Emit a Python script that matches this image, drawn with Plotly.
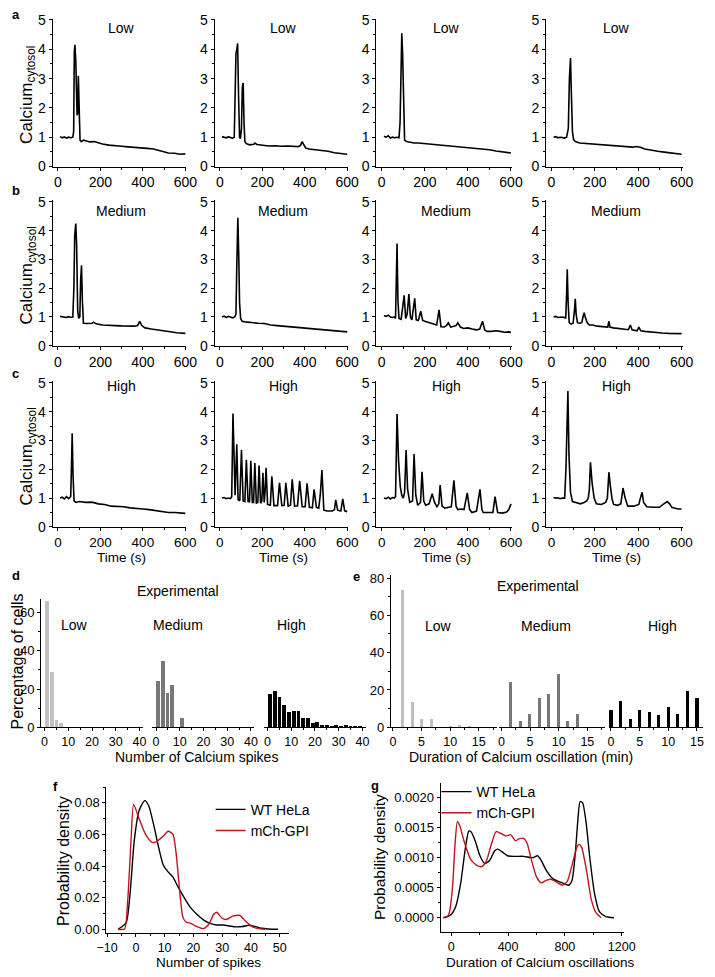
import plotly.graph_objects as go

W, H = 715, 977
FONT = "Liberation Sans, Arial, sans-serif"

# ---------------- data: calcium traces (time s, Calcium_cytosol) ----------------
a1_t = [10, 20, 30, 40, 50, 60, 70, 74, 77, 80, 84, 90, 93, 96, 99, 104, 110, 120, 135, 150, 170, 190, 210, 240, 270, 300, 330, 360, 390, 420, 450, 470, 490, 520, 550, 575, 600]
a1_v = [1.02, 0.98, 1.01, 0.97, 1.0, 0.98, 1.0, 1.2, 3.9, 4.15, 3.6, 1.75, 1.8, 3.1, 2.4, 0.9, 0.85, 0.9, 0.87, 0.84, 0.85, 0.8, 0.77, 0.73, 0.7, 0.69, 0.67, 0.66, 0.64, 0.62, 0.6, 0.56, 0.5, 0.46, 0.45, 0.42, 0.43]
a2_t = [10, 20, 30, 40, 50, 60, 68, 72, 76, 80, 84, 88, 93, 97, 102, 106, 110, 114, 118, 125, 140, 160, 165, 175, 200, 230, 260, 290, 320, 350, 370, 380, 388, 395, 405, 420, 450, 480, 510, 540, 570, 600]
a2_v = [1.02, 1.0, 0.98, 1.01, 0.99, 0.97, 1.0, 2.5, 3.85, 4.0, 4.2, 2.5, 1.0, 0.95, 1.3, 2.7, 2.85, 1.5, 0.85, 0.78, 0.74, 0.76, 0.8, 0.75, 0.72, 0.7, 0.71, 0.69, 0.7, 0.68, 0.68, 0.72, 0.85, 0.75, 0.63, 0.6, 0.58, 0.56, 0.52, 0.47, 0.44, 0.42]
a3_t = [10, 20, 30, 40, 50, 60, 70, 80, 85, 90, 93, 97, 101, 106, 115, 130, 150, 170, 200, 230, 260, 290, 320, 350, 380, 410, 440, 470, 500, 530, 560, 580, 600]
a3_v = [1.03, 1.0, 1.05, 0.97, 1.0, 0.98, 1.0, 0.98, 1.5, 3.5, 4.55, 3.8, 2.0, 0.9, 0.85, 0.83, 0.8, 0.8, 0.78, 0.74, 0.72, 0.7, 0.68, 0.66, 0.65, 0.63, 0.6, 0.58, 0.57, 0.53, 0.5, 0.47, 0.46]
a4_t = [10, 20, 30, 40, 50, 60, 70, 78, 83, 88, 92, 97, 102, 110, 130, 160, 190, 220, 250, 280, 310, 340, 360, 375, 390, 410, 430, 460, 490, 520, 550, 580, 600]
a4_v = [1.0, 1.02, 0.98, 1.0, 0.99, 0.97, 1.0, 1.3, 3.0, 3.7, 2.5, 1.2, 0.92, 0.85, 0.8, 0.78, 0.76, 0.75, 0.73, 0.72, 0.7, 0.68, 0.65, 0.66, 0.68, 0.66, 0.6, 0.55, 0.52, 0.49, 0.46, 0.43, 0.42]

b1_t = [10, 20, 30, 40, 50, 60, 70, 75, 79, 84, 88, 93, 98, 103, 107, 111, 115, 120, 140, 160, 167, 180, 210, 240, 270, 300, 330, 360, 375, 385, 395, 410, 440, 470, 500, 530, 560, 600]
b1_v = [1.02, 1.0, 1.0, 0.98, 1.01, 0.99, 1.0, 2.0, 3.85, 4.25, 3.5, 1.2, 0.95, 1.0, 2.3, 2.8, 1.6, 0.78, 0.77, 0.78, 0.82, 0.76, 0.72, 0.7, 0.7, 0.69, 0.68, 0.68, 0.7, 0.85, 0.7, 0.62, 0.58, 0.55, 0.5, 0.48, 0.45, 0.43]
b2_t = [10, 20, 30, 40, 50, 60, 70, 76, 80, 85, 89, 93, 98, 105, 120, 150, 180, 210, 240, 270, 300, 330, 360, 390, 420, 450, 480, 510, 540, 570, 600]
b2_v = [1.0, 1.03, 0.98, 1.02, 1.0, 0.97, 1.0, 1.1, 2.8, 4.45, 3.2, 1.5, 0.95, 0.85, 0.83, 0.8, 0.78, 0.77, 0.72, 0.7, 0.68, 0.66, 0.63, 0.62, 0.6, 0.58, 0.55, 0.53, 0.5, 0.49, 0.48]
b3_t = [10, 20, 30, 40, 50, 60, 64, 68, 71, 75, 80, 90, 97, 104, 111, 118, 126, 133, 140, 146, 153, 160, 170, 181, 190, 200, 220, 240, 255, 266, 275, 290, 300, 309, 320, 335, 345, 353, 365, 380, 400, 420, 440, 455, 468, 478, 490, 510, 530, 550, 570, 590, 600]
b3_v = [1.05, 1.02, 1.06, 1.0, 0.98, 1.0, 0.95, 2.2, 3.55, 1.6, 0.95, 0.92, 1.3, 1.75, 0.95, 1.1, 1.8, 1.0, 0.9, 1.3, 1.65, 0.9, 0.88, 1.2, 0.88, 0.85, 0.8, 0.75, 0.72, 1.25, 0.66, 0.65, 0.7, 0.8, 0.65, 0.68, 0.7, 0.8, 0.65, 0.6, 0.62, 0.58, 0.55, 0.58, 0.85, 0.55, 0.5, 0.5, 0.52, 0.5, 0.47, 0.48, 0.46]
b4_t = [10, 20, 30, 40, 50, 60, 66, 70, 73, 77, 82, 90, 100, 106, 110, 114, 120, 130, 140, 147, 151, 156, 165, 175, 190, 210, 230, 250, 260, 265, 270, 285, 300, 320, 340, 355, 364, 372, 385, 395, 403, 412, 430, 450, 480, 510, 540, 570, 600]
b4_v = [1.0, 1.02, 0.98, 1.0, 1.0, 0.98, 0.95, 1.8, 2.66, 1.5, 0.8, 0.75, 0.78, 1.2, 1.63, 1.1, 0.8, 0.78, 0.8, 1.05, 1.15, 1.0, 0.8, 0.72, 0.72, 0.68, 0.66, 0.64, 0.65, 0.85, 0.65, 0.62, 0.6, 0.58, 0.57, 0.56, 0.72, 0.55, 0.53, 0.52, 0.65, 0.52, 0.5, 0.48, 0.45, 0.44, 0.43, 0.42, 0.42]

c1_t = [10, 20, 30, 40, 50, 55, 60, 64, 67, 71, 76, 85, 100, 130, 160, 190, 220, 250, 280, 310, 340, 370, 400, 430, 460, 490, 520, 550, 580, 600]
c1_v = [1.0, 1.03, 0.97, 1.05, 0.98, 1.0, 1.05, 2.2, 3.25, 1.8, 0.9, 0.85, 0.88, 0.85, 0.86, 0.8, 0.78, 0.72, 0.72, 0.7, 0.66, 0.65, 0.62, 0.6, 0.56, 0.52, 0.5, 0.5, 0.48, 0.47]
c2_t = [10, 20, 30, 40, 50, 56, 62, 68, 72, 80, 86, 94, 102, 110, 118, 125, 133, 140, 146, 153, 159, 165, 172, 179, 185, 192, 198, 203, 209, 213, 218, 225, 238, 245, 255, 272, 281, 292, 303, 311, 322, 333, 341, 352, 366, 376, 388, 402, 411, 422, 436, 444, 455, 466, 473, 481, 490, 505, 530, 540, 546, 555, 570, 579, 588, 600]
c2_v = [1.0, 1.02, 0.98, 1.0, 0.98, 1.05, 3.94, 1.6, 1.1, 2.87, 0.95, 0.9, 2.67, 0.9, 0.88, 2.33, 0.88, 0.87, 2.3, 0.85, 0.85, 2.22, 0.83, 0.85, 2.13, 0.82, 0.9, 1.88, 0.85, 1.2, 2.05, 0.78, 0.75, 1.76, 0.74, 0.74, 1.53, 0.74, 0.75, 1.53, 0.72, 0.75, 1.65, 0.72, 0.73, 1.6, 0.7, 0.7, 1.51, 0.68, 0.66, 1.3, 0.68, 0.65, 1.1, 1.97, 0.58, 0.55, 0.55, 0.6, 0.94, 0.58, 0.55, 0.97, 0.56, 0.53]
c3_t = [10, 20, 30, 40, 50, 58, 64, 71, 78, 86, 93, 100, 106, 113, 120, 130, 143, 150, 158, 167, 180, 187, 195, 204, 220, 234, 245, 256, 265, 271, 280, 293, 310, 323, 335, 345, 353, 370, 382, 397, 408, 419, 440, 456, 465, 471, 490, 516, 526, 538, 560, 580, 590, 600]
c3_v = [1.0, 0.98, 1.03, 0.97, 1.02, 1.0, 1.05, 3.92, 2.3, 1.4, 1.1, 1.0, 1.2, 2.67, 1.3, 0.85, 0.9, 2.53, 1.1, 0.75, 0.85, 1.91, 0.9, 0.75, 0.8, 1.15, 0.85, 0.7, 0.8, 1.45, 0.72, 0.65, 0.68, 0.7, 1.62, 0.72, 0.6, 0.62, 0.6, 1.18, 0.6, 0.5, 0.55, 1.3, 0.6, 0.5, 0.5, 0.5, 1.05, 0.5, 0.48, 0.52, 0.6, 0.8]
c4_t = [10, 20, 30, 40, 50, 61, 67, 71, 76, 81, 88, 97, 115, 134, 150, 163, 170, 175, 180, 188, 197, 207, 230, 250, 258, 265, 272, 280, 287, 305, 320, 330, 340, 352, 380, 403, 412, 418, 425, 440, 470, 498, 515, 534, 545, 555, 570, 585, 600]
c4_v = [1.02, 1.0, 1.01, 0.98, 1.0, 1.0, 2.0, 3.8, 4.72, 2.5, 1.2, 0.88, 0.85, 0.8, 0.85, 0.9, 1.0, 1.3, 2.24, 1.5, 1.0, 0.8, 0.78, 0.85, 1.0, 1.9, 1.4, 0.95, 0.78, 0.75, 0.8, 1.35, 1.0, 0.72, 0.72, 0.78, 1.05, 1.2, 0.85, 0.7, 0.68, 0.68, 0.78, 0.88, 0.8, 0.68, 0.65, 0.62, 0.62]

row_titles = ["Low", "Medium", "High"]

# ---------------- data: histograms ----------------
spike_bins = [1, 3, 5, 7, 9, 11, 13, 15, 17, 19, 21, 23, 25, 27, 29, 31, 33, 35, 37, 39]
d_low = [66, 29, 3.5, 2, 0, 0, 0, 0, 0, 0, 0, 0, 0, 0, 0, 0, 0, 0, 0, 0]
d_med = [24, 34.8, 17.7, 22, 0, 4.5, 0, 0, 0, 0, 0, 0, 0, 0, 0, 0, 0, 0, 0, 0]
d_high = [17.4, 18.6, 15.7, 11.7, 7.8, 8.2, 8.2, 4.6, 4.6, 2.3, 2.6, 1.2, 0.6, 0.4, 1.0, 0.3, 0.6, 0.3, 0.3, 0.2]

dur_bins = [1.67, 3.33, 5.0, 6.67, 8.33, 10.0, 11.67, 13.33, 15.0]
dur_bins_high = [0.0, 1.67, 3.33, 5.0, 6.67, 8.33, 10.0, 11.67, 13.33, 15.0]
e_low = [73.5, 13.5, 4.5, 4.5, 0, 0.5, 0.9, 0.6, 0]
e_med = [24, 3, 7, 15.5, 17.7, 28.3, 3, 7, 0]
e_high = [9.2, 13.9, 4.1, 9.2, 8.3, 6.4, 10.8, 7, 19.1, 15.7]

# ---------------- data: probability density curves ----------------
f_wt_x = [-6.2, -3.4, -2.0, -0.56, 1.1, 3.1, 4.5, 6.2, 7.9, 9.55, 11.2, 12.9, 14.6, 16.9, 19.1, 21.3, 23.6, 25.8, 28.1, 30.3, 32.6, 34.8, 37.1, 39.3, 41.6, 43.8, 46.1, 49.4]
f_wt_y = [0, 0.004, 0.023, 0.056, 0.075, 0.0814, 0.078, 0.066, 0.052, 0.0405, 0.0363, 0.033, 0.027, 0.0197, 0.0135, 0.0093, 0.0058, 0.0037, 0.0027, 0.0027, 0.0021, 0.0015, 0.0017, 0.0025, 0.0017, 0.0006, 0.0002, 0]
f_gpi_x = [-6.18, -3.93, -2.81, -1.69, -0.79, 1.12, 3.37, 5.62, 7.3, 9.55, 11.24, 12.9, 14.0, 15.2, 16.3, 17.4, 19.1, 20.8, 23.4, 25.3, 27.0, 28.1, 29.8, 31.5, 33.7, 36.2, 38.2, 40.4, 42.7, 44.9]
f_gpi_y = [0, 0.0002, 0.019, 0.056, 0.079, 0.07, 0.06, 0.055, 0.0555, 0.059, 0.062, 0.06, 0.048, 0.025, 0.008, 0.0046, 0.0037, 0.002, 0.0004, 0.003, 0.0093, 0.0108, 0.0073, 0.0062, 0.0083, 0.0087, 0.005, 0.0017, 0.0004, 0]

g_wt_x = [-48, -2, 32, 66, 100, 123, 139, 168, 202, 236, 270, 305, 327, 361, 395, 452, 509, 555, 577, 607, 634, 668, 714, 759, 793, 827, 850, 873, 891, 907, 925, 948, 975, 1009, 1043, 1089, 1145]
g_wt_y = [0, 0.00005, 0.00019, 0.00057, 0.00117, 0.00144, 0.00143, 0.00128, 0.00103, 0.0009, 0.00095, 0.00111, 0.00114, 0.00109, 0.00103, 0.00102, 0.00102, 0.001, 0.001, 0.00103, 0.00095, 0.00079, 0.00065, 0.0006, 0.00057, 0.00054, 0.00062, 0.00106, 0.00161, 0.00193, 0.00191, 0.00161, 0.00101, 0.0004, 0.0001, 0.00002, 0]
g_gpi_x = [-59, -25, -14, 9, 25, 43, 61, 89, 134, 180, 214, 248, 282, 316, 350, 384, 418, 452, 475, 509, 532, 566, 600, 634, 668, 702, 736, 782, 816, 850, 884, 900, 918, 952, 986, 1020, 1055]
g_gpi_y = [0, 0.00003, 0.00008, 0.00051, 0.00117, 0.0016, 0.00152, 0.00128, 0.00098, 0.00087, 0.00085, 0.00095, 0.00122, 0.00143, 0.0014, 0.00136, 0.00138, 0.00128, 0.00131, 0.00132, 0.00125, 0.00095, 0.00068, 0.00058, 0.00062, 0.00064, 0.0006, 0.00054, 0.0006, 0.00087, 0.00117, 0.00122, 0.00117, 0.00079, 0.0003, 0.00008, 0]

# ---------------- helpers (positions in window pixels) ----------------
def PX(x):
    return x / W

def PY(y):
    return 1 - y / H

fig = go.Figure()
layout_axes = {}
counter = [0]

def axes(xd, yd, xr, yr, xdtick, ydtick, xminor, yminor, showy=True, tfs=14, xtfs=None):
    counter[0] += 1
    n = counter[0]
    sx = "" if n == 1 else str(n)
    base = dict(showline=True, linecolor="black", linewidth=1, ticks="outside",
                ticklen=3, tickwidth=1, tickcolor="black", showgrid=False,
                zeroline=False, tickfont=dict(size=tfs, color="black", family=FONT))
    xa = dict(base, domain=[PX(xd[0]), PX(xd[1])], range=xr, anchor="y" + sx,
              dtick=xdtick, tick0=0, minor=dict(ticks="outside", ticklen=2, dtick=xminor, tick0=0, tickcolor="black"))
    if xtfs:
        xa["tickfont"] = dict(size=xtfs, color="black", family=FONT)
    ya = dict(base, domain=[PY(yd[1]), PY(yd[0])], range=yr, anchor="x" + sx,
              dtick=ydtick, tick0=0, minor=dict(ticks="outside", ticklen=2, dtick=yminor, tick0=0, tickcolor="black"))
    if not showy:
        ya.update(showline=False, ticks="", showticklabels=False, minor=dict(ticks=""))
    layout_axes["xaxis" + sx] = xa
    layout_axes["yaxis" + sx] = ya
    return "x" + sx, "y" + sx

annotations = []

def text(x, y, s, size=14, angle=0, xanchor="center", bold=False):
    annotations.append(dict(x=PX(x), y=PY(y), xref="paper", yref="paper", text=("<b>%s</b>" % s) if bold else s,
                            showarrow=False, font=dict(size=size, color="black", family=FONT),
                            textangle=angle, xanchor=xanchor, yanchor="middle"))

# ---------------- rows a, b, c ----------------
col_x = [(44, 182), (211, 349), (378, 518), (553, 694)]
row_y = [(11.7, 162), (196.5, 344), (380.3, 528)]
traces = [[(a1_t, a1_v), (a2_t, a2_v), (a3_t, a3_v), (a4_t, a4_v)],
          [(b1_t, b1_v), (b2_t, b2_v), (b3_t, b3_v), (b4_t, b4_v)],
          [(c1_t, c1_v), (c2_t, c2_v), (c3_t, c3_v), (c4_t, c4_v)]]
title_y = [21.7, 207, 385]
for r in range(3):
    for c in range(4):
        xr, yr = axes(col_x[c], row_y[r], [-25, 605], [0, 5.05], 200, 1, 100, 0.5,
                      xtfs=(13.5 if r == 2 else None))
        t, v = traces[r][c]
        fig.add_trace(go.Scatter(x=t, y=v, mode="lines", line=dict(color="black", width=1.6),
                                 xaxis=xr, yaxis=yr, showlegend=False, hoverinfo="skip"))
        text((col_x[c][0] + col_x[c][1]) / 2 + 2, title_y[r], row_titles[r], size=14)
    yc = (row_y[r][0] + row_y[r][1]) / 2 + 2
    text(19, yc, "Calcium<sub>cytosol</sub>", size=17, angle=-90)
for c in range(4):
    text((col_x[c][0] + col_x[c][1]) / 2 + 2, 559, "Time (s)", size=13.5)

# ---------------- panel d ----------------
d_cols = [(32, 137), (147, 252), (262, 367)]
d_data = [d_low, d_med, d_high]
d_colors = ["#c0c0c0", "#777777", "#000000"]
for i in range(3):
    xr, yr = axes(d_cols[i], (601.5, 731.5), [-1.5, 41.4], [0, 67], 10, 20, 5, 10, showy=(i == 0), tfs=13, xtfs=12.5)
    fig.add_trace(go.Bar(x=spike_bins, y=d_data[i], width=1.6, marker=dict(color=d_colors[i], line=dict(width=0)),
                         xaxis=xr, yaxis=yr, showlegend=False, hoverinfo="skip"))
text(173, 593, "Experimental", size=14)
text(67, 628, "Low", size=14)
text(173, 628, "Medium", size=14)
text(290, 628, "High", size=14)
text(192, 761.5, "Number of Calcium spikes", size=14)
text(8, 665, "Percentage of cells", size=16, angle=-90)

# ---------------- panel e ----------------
e_cols = [(393, 502), (505, 614), (618, 715)]
e_ranges = [[-0.35, 18.1], [-0.35, 18.1], [-0.35, 16.06]]
e_x = [dur_bins, dur_bins, dur_bins_high]
e_data = [e_low, e_med, e_high]
for i in range(3):
    xr, yr = axes(e_cols[i], (577.1, 731.5), e_ranges[i], [0, 81.5], 5, 20, 2.5, 10, showy=(i == 0), tfs=13, xtfs=12.5)
    fig.add_trace(go.Bar(x=e_x[i], y=e_data[i], width=0.55, marker=dict(color=d_colors[i], line=dict(width=0)),
                         xaxis=xr, yaxis=yr, showlegend=False, hoverinfo="skip"))
text(545, 588, "Experimental", size=14)
text(442, 629, "Low", size=14)
text(553, 629, "Medium", size=14)
text(673, 629, "High", size=14)
text(527, 762, "Duration of Calcium oscillation (min)", size=14)

# ---------------- panel f ----------------
xr, yr = axes((99.3, 288.3), (791.7, 940), [-10.3, 53.4], [-0.0021, 0.0903], 10, 0.02, 5, 0.01, tfs=13, xtfs=12.5)
layout_axes["yaxis" + yr[1:]]["tickformat"] = ".2f"
fig.add_trace(go.Scatter(x=f_wt_x, y=f_wt_y, mode="lines", name="WT HeLa", line=dict(color="black", width=1.4, shape="spline", smoothing=0.6),
                         xaxis=xr, yaxis=yr, legend="legend", hoverinfo="skip"))
fig.add_trace(go.Scatter(x=f_gpi_x, y=f_gpi_y, mode="lines", name="mCh-GPI", line=dict(color="#c0141c", width=1.4, shape="spline", smoothing=0.6),
                         xaxis=xr, yaxis=yr, legend="legend", hoverinfo="skip"))
text(205, 970.5, "Number of spikes", size=13.5)
text(55, 867, "Probability density", size=16, angle=-90)

# ---------------- panel g ----------------
xr, yr = axes((444.3, 633.3), (788.3, 939), [-75, 1215], [-0.00023, 0.002236], 400, 0.0005, 200, 0.00025, tfs=13, xtfs=12.5)
layout_axes["yaxis" + yr[1:]]["tickformat"] = ".4f"
fig.add_trace(go.Scatter(x=g_wt_x, y=g_wt_y, mode="lines", name="WT HeLa", line=dict(color="black", width=1.4, shape="spline", smoothing=0.6),
                         xaxis=xr, yaxis=yr, legend="legend2", hoverinfo="skip"))
fig.add_trace(go.Scatter(x=g_gpi_x, y=g_gpi_y, mode="lines", name="mCh-GPI", line=dict(color="#c0141c", width=1.4, shape="spline", smoothing=0.6),
                         xaxis=xr, yaxis=yr, legend="legend2", hoverinfo="skip"))
text(547, 970.5, "Duration of Calcium oscillations", size=13.5)
text(382, 863, "Probability density", size=15.5, angle=-90)

# ---------------- panel letters ----------------
for lx, ly, s in [(6, 8, "a"), (6, 186, "b"), (6, 372, "c"), (6, 577, "d"), (358, 578, "e"), (47, 792, "f"), (377, 791, "g")]:
    text(lx, ly, s, size=13, bold=True)

legend_style = dict(xanchor="left", yanchor="top", bgcolor="rgba(0,0,0,0)", borderwidth=0,
                    font=dict(size=14, color="black", family=FONT), tracegroupgap=0, itemwidth=30)
fig.update_layout(
    width=W, height=H, margin=dict(l=0, r=0, t=0, b=0),
    paper_bgcolor="white", plot_bgcolor="white",
    font=dict(family=FONT, color="black"),
    bargap=0, annotations=annotations,
    legend=dict(legend_style, x=PX(207), y=PY(799)),
    legend2=dict(legend_style, x=PX(440), y=PY(781)),
    **layout_axes,
)
fig.write_html("out.html", config={"displayModeBar": False},
               post_script="document.body.style.margin='0px';document.body.style.overflow='hidden';")
